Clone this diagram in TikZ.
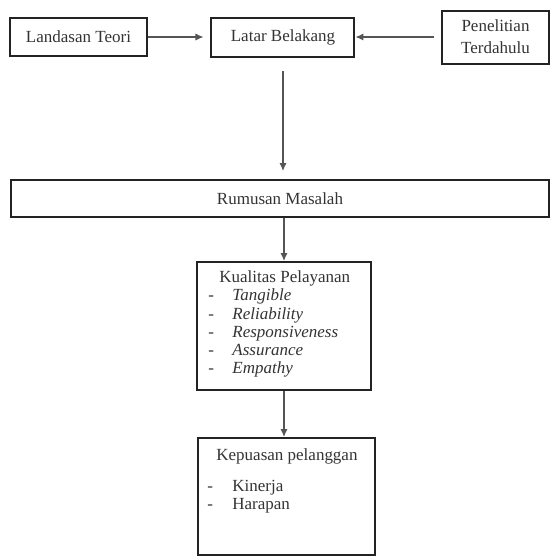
\documentclass[tikz,border=0pt]{standalone}
\usepackage{fontspec}
\setmainfont{Liberation Serif}
\usetikzlibrary{arrows.meta,positioning}
\definecolor{garis}{RGB}{35,35,35}
\definecolor{panah}{RGB}{85,85,85}

\begin{document}
\begin{tikzpicture}[x=0.5pt, y=-0.5pt,
      font=\fontsize{8.5}{9.1}\selectfont, text=black!80,
      kotak/.style={rectangle, draw=garis, line width=1pt, inner sep=0pt,
                    align=center},
      isi/.style={anchor=north west, align=left, inner sep=0pt},
      panahku/.style={-{Latex[length=4pt,width=3.6pt]}, panah,
                      line width=0.6pt}]
    \useasboundingbox (0,0) rectangle (550,559);
    \node[kotak, minimum width=68.5pt, minimum height=19pt] (landasan)
      at (78.5, 37) {Landasan Teori};
    \node[kotak, minimum width=71.5pt, minimum height=19.5pt] (latar)
      at (283, 37) {Latar Belakang};
    \node[kotak, minimum width=53.5pt, minimum height=26.5pt] (penelitian)
      at (495.5, 37) {Penelitian\\[1.9pt]Terdahulu};
    \node[kotak, minimum width=269pt, minimum height=18.5pt] (rumusan)
      at (280, 198.5) {Rumusan Masalah};
    \node[kotak, minimum width=87pt, minimum height=64pt] (kualitas)
      at (284, 326) {};
    \node[kotak, minimum width=88.5pt, minimum height=58.5pt] (kepuasan)
      at (286.5, 496.5) {};
    % isi kotak
    \node[isi] (kualitasisi) at ([xshift=6pt, yshift=-4.7pt]kualitas.north west)
      {\hspace*{5.5pt}Kualitas Pelayanan\\
       \makebox[12pt][l]{-}\textit{Tangible}\\
       \makebox[12pt][l]{-}\textit{Reliability}\\
       \makebox[12pt][l]{-}\textit{Responsiveness}\\
       \makebox[12pt][l]{-}\textit{Assurance}\\
       \makebox[12pt][l]{-}\textit{Empathy}};
    \node[isi] (kepuasanisi) at ([xshift=5pt, yshift=-5.7pt]kepuasan.north west)
      {\hspace*{4.5pt}Kepuasan pelanggan\\[6.4pt]
       \makebox[12.5pt][l]{-}Kinerja\\
       \makebox[12.5pt][l]{-}Harapan};
    % panah
    \draw[panahku, shorten >=3.5pt] (landasan) -- (latar);
    \draw[panahku, shorten <=3.5pt] (penelitian) -- (latar);
    \draw[panahku, shorten <=6.5pt, shorten >=4pt] (latar)
      -- (latar |- rumusan.north);
    \draw[panahku] (rumusan.south -| kualitas) -- (kualitas);
    \draw[panahku] (kualitas) -- (kualitas |- kepuasan.north);
  \end{tikzpicture}
\end{document}
